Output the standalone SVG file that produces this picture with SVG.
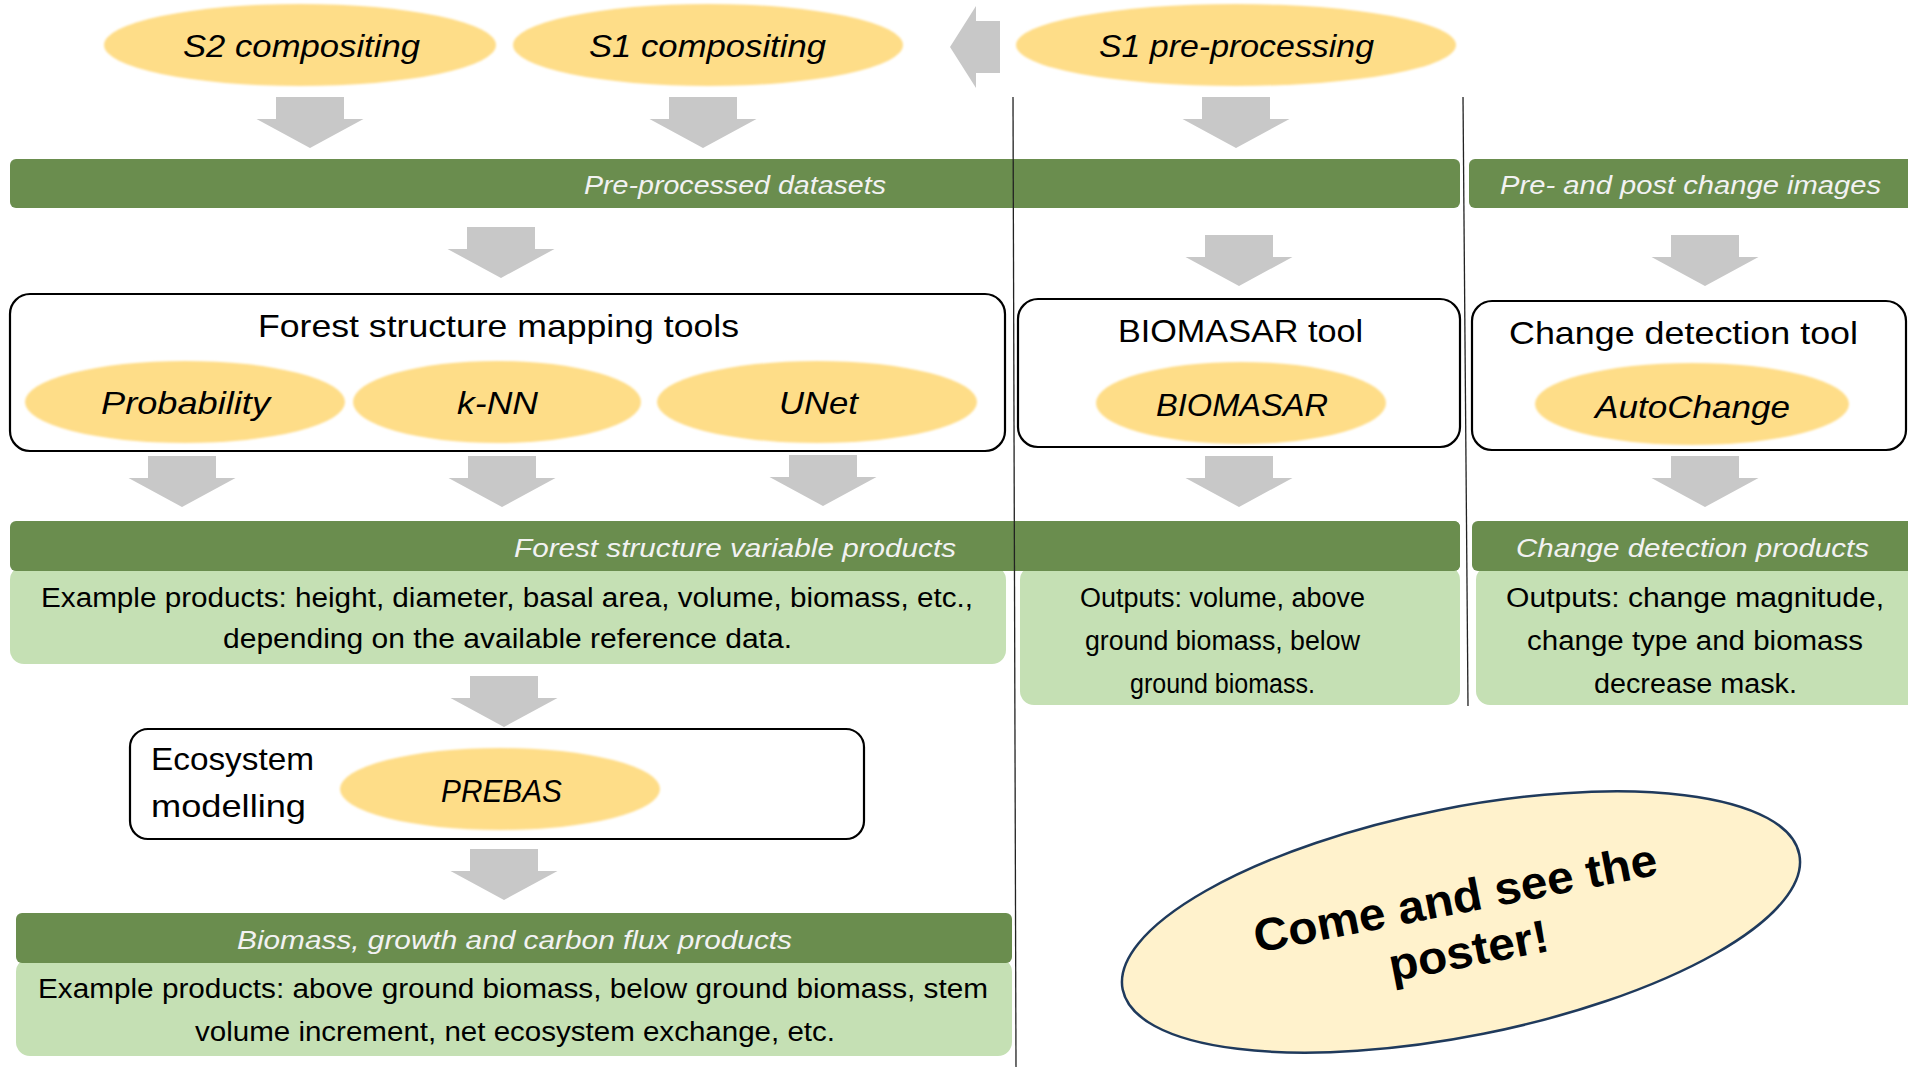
<svg xmlns="http://www.w3.org/2000/svg" width="1908" height="1067" viewBox="0 0 1908 1067">
  <defs>
    <style>
      text { font-family: "Liberation Sans", Arial, sans-serif; fill: #000; }
      .title { font-size: 32px; }
      .oval-label { font-size: 32px; font-style: italic; }
      .bar-label { font-size: 25px; font-style: italic; fill: #f2f2f2; }
      .body { font-size: 27px; }
      .callout-text { font-size: 46px; font-weight: bold; }
      .oval { fill: #fedd88; filter: url(#soft); }
      .tool-box { fill: #fff; stroke: #000; stroke-width: 2.2; }
      .bar { fill: #6a8d4e; }
      .panel { fill: #c5e0b4; }
      .flow { fill: #c8c8c8; }
      .divider { stroke: #222; stroke-width: 1.3; fill: none; }
    </style>
    <filter id="soft" x="-5%" y="-10%" width="110%" height="120%">
      <feGaussianBlur stdDeviation="1.3"/>
    </filter>
    <!-- block arrow pointing down, origin at top centre -->
    <path id="arrowDown" d="M-34,0 H34 V22 H53.5 L0,51 L-53.5,22 H-34 Z"/>
  </defs>

  <rect width="1908" height="1067" fill="#fff"/>

  <!-- top row: input processing ovals -->
  <g id="s2-compositing">
    <ellipse class="oval" cx="300" cy="45" rx="196" ry="41"/>
    <text class="oval-label" x="183" y="57" textLength="237" lengthAdjust="spacingAndGlyphs">S2 compositing</text>
  </g>
  <g id="s1-compositing">
    <ellipse class="oval" cx="708" cy="45" rx="195" ry="41"/>
    <text class="oval-label" x="589" y="57" textLength="237" lengthAdjust="spacingAndGlyphs">S1 compositing</text>
  </g>
  <g id="s1-preprocessing">
    <ellipse class="oval" cx="1236" cy="45" rx="220" ry="41"/>
    <text class="oval-label" x="1099" y="57" textLength="275" lengthAdjust="spacingAndGlyphs">S1 pre-processing</text>
  </g>

  <!-- dataset bars -->
  <g id="preprocessed-datasets">
    <rect class="bar" x="10" y="159" width="1450" height="49" rx="6"/>
    <text class="bar-label" x="584" y="194" textLength="302" lengthAdjust="spacingAndGlyphs">Pre-processed datasets</text>
  </g>
  <g id="change-images">
    <rect class="bar" x="1469" y="159" width="450" height="49" rx="6"/>
    <text class="bar-label" x="1500" y="194" textLength="381" lengthAdjust="spacingAndGlyphs">Pre- and post change images</text>
  </g>

  <!-- tool boxes -->
  <g id="forest-structure-tools">
    <rect class="tool-box" x="10" y="294" width="995" height="157" rx="20"/>
    <text class="title" x="258" y="337" textLength="481" lengthAdjust="spacingAndGlyphs">Forest structure mapping tools</text>
  </g>
  <g id="probability">
    <ellipse class="oval" cx="185" cy="402" rx="160" ry="41"/>
    <text class="oval-label" x="101" y="414" textLength="169" lengthAdjust="spacingAndGlyphs">Probability</text>
  </g>
  <g id="knn">
    <ellipse class="oval" cx="497" cy="402" rx="144" ry="41"/>
    <text class="oval-label" x="457" y="414" textLength="81" lengthAdjust="spacingAndGlyphs">k-NN</text>
  </g>
  <g id="unet">
    <ellipse class="oval" cx="817" cy="402" rx="160" ry="41"/>
    <text class="oval-label" x="779" y="414" textLength="79" lengthAdjust="spacingAndGlyphs">UNet</text>
  </g>

  <g id="biomasar-tool">
    <rect class="tool-box" x="1018" y="299" width="442" height="148" rx="20"/>
    <text class="title" x="1118" y="342" textLength="245" lengthAdjust="spacingAndGlyphs">BIOMASAR tool</text>
  </g>
  <g id="biomasar">
    <ellipse class="oval" cx="1241" cy="403" rx="145" ry="41"/>
    <text class="oval-label" x="1156" y="416" textLength="172" lengthAdjust="spacingAndGlyphs">BIOMASAR</text>
  </g>

  <g id="change-detection-tool">
    <rect class="tool-box" x="1472" y="301" width="434" height="149" rx="20"/>
    <text class="title" x="1509" y="344" textLength="349" lengthAdjust="spacingAndGlyphs">Change detection tool</text>
  </g>
  <g id="autochange">
    <ellipse class="oval" cx="1692" cy="404" rx="157" ry="41"/>
    <text class="oval-label" x="1595" y="418" textLength="195" lengthAdjust="spacingAndGlyphs">AutoChange</text>
  </g>

  <!-- product panels -->
  <g id="forest-structure-products">
    <rect class="panel" x="10" y="566" width="996" height="98" rx="14"/>
    <rect class="bar" x="10" y="521" width="1450" height="50" rx="6"/>
    <text class="bar-label" x="514" y="557" textLength="442" lengthAdjust="spacingAndGlyphs">Forest structure variable products</text>
    <text class="body" x="41" y="607" textLength="932" lengthAdjust="spacingAndGlyphs">Example products: height, diameter, basal area, volume, biomass, etc.,</text>
    <text class="body" x="223" y="648" textLength="569" lengthAdjust="spacingAndGlyphs">depending on the available reference data.</text>
  </g>
  <g id="biomasar-outputs">
    <rect class="panel" x="1020" y="566" width="440" height="139" rx="14"/>
    <rect class="bar" x="1018" y="521" width="442" height="50" rx="6"/>
    <text class="body" x="1080" y="607" textLength="285" lengthAdjust="spacingAndGlyphs">Outputs: volume, above</text>
    <text class="body" x="1085" y="650" textLength="275" lengthAdjust="spacingAndGlyphs">ground biomass, below</text>
    <text class="body" x="1130" y="693" textLength="185" lengthAdjust="spacingAndGlyphs">ground biomass.</text>
  </g>
  <g id="change-detection-products">
    <rect class="panel" x="1476" y="566" width="445" height="139" rx="14"/>
    <rect class="bar" x="1472" y="521" width="450" height="50" rx="6"/>
    <text class="bar-label" x="1516" y="557" textLength="353" lengthAdjust="spacingAndGlyphs">Change detection products</text>
    <text class="body" x="1506" y="607" textLength="378" lengthAdjust="spacingAndGlyphs">Outputs: change magnitude,</text>
    <text class="body" x="1527" y="650" textLength="336" lengthAdjust="spacingAndGlyphs">change type and biomass</text>
    <text class="body" x="1594" y="693" textLength="203" lengthAdjust="spacingAndGlyphs">decrease mask.</text>
  </g>

  <!-- ecosystem modelling -->
  <g id="ecosystem-modelling">
    <rect class="tool-box" x="130" y="729" width="734" height="110" rx="18"/>
    <text class="title" x="151" y="770" textLength="163" lengthAdjust="spacingAndGlyphs">Ecosystem</text>
    <text class="title" x="151" y="817" textLength="155" lengthAdjust="spacingAndGlyphs">modelling</text>
  </g>
  <g id="prebas">
    <ellipse class="oval" cx="500" cy="789" rx="160" ry="41"/>
    <text class="oval-label" x="441" y="802" textLength="121" lengthAdjust="spacingAndGlyphs">PREBAS</text>
  </g>

  <g id="carbon-flux-products">
    <rect class="panel" x="16" y="958" width="996" height="98" rx="14"/>
    <rect class="bar" x="16" y="913" width="996" height="50" rx="6"/>
    <text class="bar-label" x="237" y="949" textLength="555" lengthAdjust="spacingAndGlyphs">Biomass, growth and carbon flux products</text>
    <text class="body" x="38" y="998" textLength="950" lengthAdjust="spacingAndGlyphs">Example products: above ground biomass, below ground biomass, stem</text>
    <text class="body" x="195" y="1041" textLength="640" lengthAdjust="spacingAndGlyphs">volume increment, net ecosystem exchange, etc.</text>
  </g>

  <!-- callout -->
  <g id="poster-callout">
    <ellipse cx="1461" cy="922" rx="345" ry="114" transform="rotate(-11.3 1461 922)" fill="#fff2cc" stroke="#1f3a5c" stroke-width="2.5"/>
    <g transform="translate(1464 938) rotate(-11)">
      <text class="callout-text" x="-1" y="-25" text-anchor="middle" textLength="410" lengthAdjust="spacingAndGlyphs">Come and see the</text>
      <text class="callout-text" x="2" y="29" text-anchor="middle" textLength="162" lengthAdjust="spacingAndGlyphs">poster!</text>
    </g>
  </g>

  <!-- column dividers -->
  <g id="dividers">
    <line class="divider" x1="1013" y1="97" x2="1016" y2="1067"/>
    <line class="divider" x1="1463" y1="97" x2="1468" y2="706"/>
  </g>

  <!-- flow arrows -->
  <g id="connectors" class="flow">
    <path d="M950,47 L976,6 V21 H1000 V73 H976 V88 Z"/>
    <use href="#arrowDown" x="310" y="97"/>
    <use href="#arrowDown" x="703" y="97"/>
    <use href="#arrowDown" x="1236" y="97"/>
    <use href="#arrowDown" x="501" y="227"/>
    <use href="#arrowDown" x="1239" y="235"/>
    <use href="#arrowDown" x="1705" y="235"/>
    <use href="#arrowDown" x="182" y="456"/>
    <use href="#arrowDown" x="502" y="456"/>
    <use href="#arrowDown" x="823" y="455"/>
    <use href="#arrowDown" x="1239" y="456"/>
    <use href="#arrowDown" x="1705" y="456"/>
    <use href="#arrowDown" x="504" y="676"/>
    <use href="#arrowDown" x="504" y="849"/>
  </g>
</svg>
